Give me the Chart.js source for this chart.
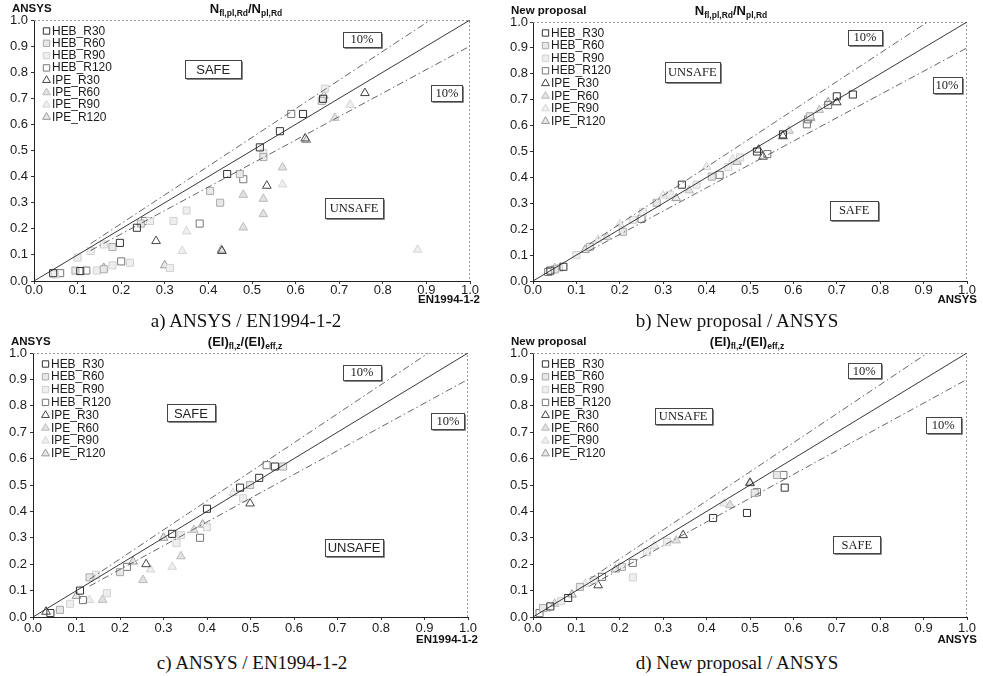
<!DOCTYPE html>
<html>
<head>
<meta charset="utf-8">
<script src="https://cdn.jsdelivr.net/npm/chart.js@4.4.1/dist/chart.umd.min.js"></script>
<style>
  body { margin: 0; background: #fff; width: 983px; height: 676px; position: relative; overflow: hidden; }
  .panel { position: absolute; }
  .cap { position: absolute; font-family: "Liberation Serif", "Times New Roman", serif; font-size: 19px; line-height: 20px; color: #111; transform: translateX(-50%); white-space: nowrap; }
</style>
</head>
<body>
<div class="panel" style="left:0;top:0;width:490px;height:305px"><canvas id="chartA"></canvas></div>
<div class="panel" style="left:490px;top:0;width:493px;height:305px"><canvas id="chartB"></canvas></div>
<div class="panel" style="left:0;top:320px;width:490px;height:330px"><canvas id="chartC"></canvas></div>
<div class="panel" style="left:490px;top:320px;width:493px;height:330px"><canvas id="chartD"></canvas></div>
<div class="cap" style="left:246px;top:311px">a) ANSYS / EN1994-1-2</div>
<div class="cap" style="left:737px;top:311px">b) New proposal / ANSYS</div>
<div class="cap" style="left:252px;top:653px">c) ANSYS / EN1994-1-2</div>
<div class="cap" style="left:737px;top:653px">d) New proposal / ANSYS</div>
<script>
// series names (legend)
const seriesNames = ['HEB_R30', 'HEB_R60', 'HEB_R90', 'HEB_R120', 'IPE_R30', 'IPE_R60', 'IPE_R90', 'IPE_R120'];
// reference lines y = f * x  (1:1 and +/-10%)
const refFactors = [1.1, 1.0, 0.9];
const bandStart = 0.13;

// a) N ratio : ANSYS (y) vs EN1994-1-2 (x)
const a_HEB_R30 = [[0.044,0.030],[0.106,0.038],[0.197,0.146],[0.236,0.204],[0.443,0.410],[0.518,0.512],[0.564,0.574],[0.617,0.640],[0.663,0.698]];
const a_HEB_R60 = [[0.095,0.040],[0.160,0.045],[0.180,0.130],[0.245,0.220],[0.404,0.345],[0.427,0.300],[0.472,0.410],[0.526,0.475],[0.660,0.690]];
const a_HEB_R90 = [[0.048,0.025],[0.100,0.090],[0.130,0.115],[0.144,0.040],[0.160,0.140],[0.180,0.060],[0.220,0.070],[0.266,0.230],[0.312,0.050],[0.320,0.230],[0.350,0.270],[0.526,0.490],[0.667,0.737]];
const a_HEB_R120 = [[0.060,0.030],[0.120,0.040],[0.200,0.075],[0.255,0.230],[0.380,0.220],[0.480,0.390],[0.590,0.640]];
const a_IPE_R30 = [[0.280,0.153],[0.431,0.115],[0.534,0.365],[0.622,0.546],[0.759,0.720]];
const a_IPE_R60 = [[0.480,0.205],[0.480,0.330],[0.526,0.256],[0.526,0.315],[0.570,0.435],[0.690,0.625]];
const a_IPE_R90 = [[0.340,0.115],[0.350,0.190],[0.570,0.370],[0.725,0.675],[0.880,0.120]];
const a_IPE_R120 = [[0.160,0.050],[0.300,0.060],[0.430,0.120],[0.625,0.540],[0.665,0.710]];

// b) N ratio : New proposal (y) vs ANSYS (x)
const b_HEB_R30 = [[0.040,0.040],[0.070,0.055],[0.343,0.372],[0.516,0.500],[0.576,0.566],[0.700,0.713],[0.737,0.720]];
const b_HEB_R60 = [[0.050,0.045],[0.131,0.132],[0.207,0.190],[0.285,0.302],[0.412,0.403],[0.638,0.636]];
const b_HEB_R90 = [[0.060,0.050],[0.100,0.100],[0.230,0.236],[0.253,0.267],[0.315,0.333],[0.377,0.372],[0.450,0.440],[0.477,0.477]];
const b_HEB_R120 = [[0.035,0.035],[0.250,0.240],[0.430,0.410],[0.540,0.490],[0.631,0.605],[0.634,0.624],[0.680,0.680]];
const b_IPE_R30 = [[0.520,0.507],[0.530,0.480],[0.576,0.559],[0.700,0.690]];
const b_IPE_R60 = [[0.050,0.050],[0.170,0.170],[0.360,0.350],[0.590,0.580],[0.660,0.660]];
const b_IPE_R90 = [[0.150,0.160],[0.200,0.220],[0.300,0.330],[0.400,0.440],[0.460,0.470]];
const b_IPE_R120 = [[0.120,0.120],[0.330,0.320],[0.470,0.460],[0.640,0.630],[0.680,0.690]];

// c) EI ratio : ANSYS (y) vs EN1994-1-2 (x)
const c_HEB_R30 = [[0.040,0.015],[0.108,0.100],[0.320,0.315],[0.400,0.410],[0.476,0.490],[0.520,0.527],[0.556,0.570]];
const c_HEB_R60 = [[0.062,0.027],[0.130,0.150],[0.200,0.170],[0.499,0.500],[0.575,0.570]];
const c_HEB_R90 = [[0.085,0.050],[0.145,0.160],[0.170,0.090],[0.330,0.280],[0.340,0.310],[0.400,0.340],[0.483,0.450]];
const c_HEB_R120 = [[0.115,0.064],[0.216,0.190],[0.384,0.300],[0.537,0.575]];
const c_IPE_R30 = [[0.030,0.020],[0.260,0.200],[0.499,0.430]];
const c_IPE_R60 = [[0.160,0.065],[0.253,0.140],[0.340,0.230],[0.370,0.330]];
const c_IPE_R90 = [[0.130,0.064],[0.270,0.180],[0.320,0.190],[0.460,0.470]];
const c_IPE_R120 = [[0.100,0.080],[0.230,0.210],[0.300,0.300],[0.390,0.350]];

// d) EI ratio : New proposal (y) vs ANSYS (x)
const d_HEB_R30 = [[0.040,0.040],[0.081,0.072],[0.415,0.375],[0.493,0.394],[0.580,0.490]];
const d_HEB_R60 = [[0.023,0.034],[0.108,0.114],[0.205,0.190],[0.511,0.470],[0.562,0.538]];
const d_HEB_R90 = [[0.065,0.060],[0.140,0.140],[0.230,0.150],[0.263,0.246],[0.309,0.284]];
const d_HEB_R120 = [[0.015,0.015],[0.159,0.152],[0.230,0.205],[0.516,0.473],[0.577,0.538]];
const d_IPE_R30 = [[0.150,0.120],[0.346,0.310],[0.500,0.507]];
const d_IPE_R60 = [[0.050,0.050],[0.330,0.290],[0.454,0.424]];
const d_IPE_R90 = [[0.030,0.030],[0.120,0.125],[0.280,0.270],[0.440,0.430]];
const d_IPE_R120 = [[0.090,0.085],[0.190,0.180],[0.500,0.510]];

// marker look for each series
const seriesStyle = [
  { shape: 'rect', stroke: '#333', fill: 'rgba(0,0,0,0)' },
  { shape: 'rect', stroke: '#aaa', fill: '#e8e8e8' },
  { shape: 'rect', stroke: '#d2d2d2', fill: '#eeeeee' },
  { shape: 'rect', stroke: '#777', fill: 'rgba(0,0,0,0)' },
  { shape: 'triangle', stroke: '#444', fill: 'rgba(0,0,0,0)' },
  { shape: 'triangle', stroke: '#bbb', fill: '#e2e2e2' },
  { shape: 'triangle', stroke: '#d6d6d6', fill: '#efefef' },
  { shape: 'triangle', stroke: '#999', fill: '#e9e9e9' }
];

function toPts(arr) { return arr.map(p => ({ x: p[0], y: p[1] })); }

function refLine(f) {
  const start = f === 1 ? 0 : bandStart;
  const xEnd = Math.min(1, 1 / f);
  return [{ x: start, y: start * f }, { x: xEnd, y: xEnd * f }];
}

function drawMarker(ctx, shape, x, y, r) {
  ctx.beginPath();
  if (shape === 'rect') {
    const s = Math.SQRT1_2 * r;
    ctx.rect(x - s, y - s, 2 * s, 2 * s);
  } else {
    ctx.moveTo(x, y - r);
    ctx.lineTo(x + 0.866 * r, y + 0.5 * r);
    ctx.lineTo(x - 0.866 * r, y + 0.5 * r);
    ctx.closePath();
  }
}

// axis titles, main title, frame, legend and text boxes
const deco = {
  id: 'deco',
  beforeDatasetsDraw(chart) {
    const ctx = chart.ctx, a = chart.chartArea;
    ctx.save();
    ctx.strokeStyle = '#999';
    ctx.lineWidth = 1;
    ctx.setLineDash([2, 2]);
    ctx.beginPath();
    ctx.moveTo(a.left, a.top + 0.5);
    ctx.lineTo(a.right - 0.5, a.top + 0.5);
    ctx.lineTo(a.right - 0.5, a.bottom);
    ctx.stroke();
    ctx.restore();
  },
  afterDatasetsDraw(chart, args, opts) {
    const ctx = chart.ctx, a = chart.chartArea;
    const xs = chart.scales.x, ys = chart.scales.y;
    ctx.save();
    ctx.fillStyle = '#111';
    ctx.textBaseline = 'middle';

    // y axis title top-left
    ctx.font = 'bold 11.5px Arial, "Liberation Sans", sans-serif';
    ctx.textAlign = 'left';
    ctx.fillText(opts.yTitle, a.left - 22, a.top - 11);
    // x axis title bottom-right, under the last tick labels
    ctx.textAlign = 'right';
    ctx.fillText(opts.xTitle, a.right + 10, a.bottom + opts.xTitleDrop);

    // main title with subscripts
    const big = 'bold 13px Arial, "Liberation Sans", sans-serif';
    const small = 'bold 8.5px Arial, "Liberation Sans", sans-serif';
    let total = 0;
    opts.titleParts.forEach(p => { ctx.font = p[1] ? small : big; total += ctx.measureText(p[0]).width; });
    let tx = opts.titleX - total / 2;
    ctx.textAlign = 'left';
    ctx.textBaseline = 'alphabetic';
    opts.titleParts.forEach(p => {
      ctx.font = p[1] ? small : big;
      ctx.fillText(p[0], tx, a.top - 7 + (p[1] ? 3 : 0));
      tx += ctx.measureText(p[0]).width;
    });

    // legend inside plot, top-left
    ctx.textBaseline = 'middle';
    let row = 0;
    chart.data.datasets.forEach(ds => {
      if (ds.seriesIndex === undefined) return;
      const st = seriesStyle[ds.seriesIndex];
      const y = a.top + 11 + row * opts.legendStep;
      ctx.fillStyle = st.fill;
      ctx.strokeStyle = st.stroke;
      ctx.lineWidth = 1;
      drawMarker(ctx, st.shape, a.left + 12.5, y, 4.5);
      ctx.fill();
      ctx.stroke();
      ctx.fillStyle = '#1a1a1a';
      ctx.font = '13px Arial, "Liberation Sans", sans-serif';
      ctx.save();
      ctx.translate(a.left + 18, y);
      ctx.scale(0.92, 1);
      ctx.textAlign = 'left';
      ctx.fillText(ds.label, 0, 0);
      ctx.restore();
      row++;
    });

    // boxed labels
    opts.boxes.forEach(b => {
      const cx = xs.getPixelForValue(b.x), cy = ys.getPixelForValue(b.y);
      const x0 = Math.round(cx - b.w / 2) + 0.5, y0 = Math.round(cy - b.h / 2) + 0.5;
      ctx.fillStyle = '#fff';
      ctx.fillRect(x0, y0, b.w, b.h);
      ctx.strokeStyle = '#444';
      ctx.lineWidth = 1;
      ctx.strokeRect(x0, y0, b.w, b.h);
      ctx.strokeStyle = '#888';
      ctx.beginPath();
      ctx.moveTo(x0 + b.w + 1, y0 + 1);
      ctx.lineTo(x0 + b.w + 1, y0 + b.h + 1);
      ctx.lineTo(x0 + 1, y0 + b.h + 1);
      ctx.stroke();
      ctx.fillStyle = '#222';
      ctx.font = b.serif ? '12.5px "Liberation Serif", "Times New Roman", serif' : '13px Arial, "Liberation Sans", sans-serif';
      ctx.textAlign = 'center';
      ctx.textBaseline = 'middle';
      ctx.fillText(b.text, cx, cy + 1);
    });
    ctx.restore();
  }
};

function makePanel(id, geo, seriesData, cfg) {
  const datasets = [];
  refFactors.forEach(f => {
    datasets.push({
      type: 'line',
      data: refLine(f),
      borderColor: f === 1 ? '#222' : '#555',
      borderWidth: 0.9,
      borderDash: f === 1 ? [] : [7, 3, 1.5, 3],
      pointRadius: 0,
      showLine: true,
      fill: false
    });
  });
  seriesData.forEach((arr, i) => {
    const st = seriesStyle[i];
    datasets.push({
      label: seriesNames[i],
      seriesIndex: i,
      data: toPts(arr),
      pointStyle: st.shape,
      pointRadius: 5,
      pointHoverRadius: 5,
      pointBorderWidth: 1,
      borderColor: st.stroke,
      backgroundColor: st.fill
    });
  });

  const axisCommon = {
    type: 'linear',
    min: 0,
    max: 1,
    grid: { drawOnChartArea: false, drawTicks: true, tickLength: 3, color: '#333' },
    border: { display: true, color: '#222', width: 1 },
    ticks: {
      stepSize: 0.1,
      autoSkip: false,
      maxRotation: 0,
      color: '#1a1a1a',
      font: { family: 'Arial, "Liberation Sans", sans-serif', size: 13 },
      callback: v => Number(v).toFixed(1)
    }
  };

  new Chart(document.getElementById(id), {
    type: 'scatter',
    data: { datasets },
    options: {
      responsive: true,
      maintainAspectRatio: false,
      animation: false,
      events: [],
      layout: { padding: { top: geo.top, right: geo.right, left: 0, bottom: 0 } },
      plugins: {
        legend: { display: false },
        tooltip: { enabled: false },
        deco: cfg
      },
      scales: {
        x: Object.assign({}, axisCommon, {
          ticks: Object.assign({}, axisCommon.ticks, { padding: geo.xPad }),
          afterFit: s => { s.height = geo.height - geo.bottom; }
        }),
        y: Object.assign({}, axisCommon, {
          ticks: Object.assign({}, axisCommon.ticks, { padding: geo.yPad }),
          afterFit: s => { s.width = geo.left; }
        })
      }
    },
    plugins: [deco]
  });
}

const nTitle = [['N', 0], ['fl,pl,Rd', 1], ['/N', 0], ['pl,Rd', 1]];
const eiTitle = [['(EI)', 0], ['fl,z', 1], ['/(EI)', 0], ['eff,z', 1]];

makePanel('chartA', { left: 34, right: 20, top: 20, bottom: 281, height: 305, yPad: 3, xPad: -1 },
  [a_HEB_R30, a_HEB_R60, a_HEB_R90, a_HEB_R120, a_IPE_R30, a_IPE_R60, a_IPE_R90, a_IPE_R120],
  {
    yTitle: 'ANSYS', xTitle: 'EN1994-1-2', titleParts: nTitle, titleX: 246, legendStep: 12.3, xTitleDrop: 19,
    boxes: [
      { text: 'SAFE', x: 0.411, y: 0.812, w: 56, h: 18, serif: false },
      { text: '10%', x: 0.752, y: 0.927, w: 38, h: 15, serif: true },
      { text: '10%', x: 0.947, y: 0.720, w: 31, h: 16, serif: true },
      { text: 'UNSAFE', x: 0.734, y: 0.280, w: 58, h: 20, serif: true }
    ]
  });

makePanel('chartB', { left: 43, right: 16, top: 22, bottom: 281, height: 305, yPad: 2, xPad: -1 },
  [b_HEB_R30, b_HEB_R60, b_HEB_R90, b_HEB_R120, b_IPE_R30, b_IPE_R60, b_IPE_R90, b_IPE_R120],
  {
    yTitle: 'New proposal', xTitle: 'ANSYS', titleParts: nTitle, titleX: 241, legendStep: 12.6, xTitleDrop: 19,
    boxes: [
      { text: 'UNSAFE', x: 0.367, y: 0.807, w: 55, h: 20, serif: true },
      { text: '10%', x: 0.765, y: 0.942, w: 34, h: 15, serif: true },
      { text: '10%', x: 0.954, y: 0.757, w: 29, h: 16, serif: true },
      { text: 'SAFE', x: 0.740, y: 0.274, w: 48, h: 19, serif: true }
    ]
  });

makePanel('chartC', { left: 33, right: 22, top: 33, bottom: 297, height: 330, yPad: 3, xPad: 1 },
  [c_HEB_R30, c_HEB_R60, c_HEB_R90, c_HEB_R120, c_IPE_R30, c_IPE_R60, c_IPE_R90, c_IPE_R120],
  {
    yTitle: 'ANSYS', xTitle: 'EN1994-1-2', titleParts: eiTitle, titleX: 245, legendStep: 12.8, xTitleDrop: 23,
    boxes: [
      { text: 'SAFE', x: 0.363, y: 0.773, w: 48, h: 17, serif: false },
      { text: '10%', x: 0.756, y: 0.928, w: 38, h: 15, serif: true },
      { text: '10%', x: 0.954, y: 0.742, w: 33, h: 16, serif: true },
      { text: 'UNSAFE', x: 0.738, y: 0.265, w: 58, h: 17, serif: false }
    ]
  });

makePanel('chartD', { left: 43, right: 16, top: 33, bottom: 297, height: 330, yPad: 2, xPad: 1 },
  [d_HEB_R30, d_HEB_R60, d_HEB_R90, d_HEB_R120, d_IPE_R30, d_IPE_R60, d_IPE_R90, d_IPE_R120],
  {
    yTitle: 'New proposal', xTitle: 'ANSYS', titleParts: eiTitle, titleX: 257, legendStep: 12.8, xTitleDrop: 23,
    boxes: [
      { text: 'UNSAFE', x: 0.346, y: 0.761, w: 57, h: 16, serif: true },
      { text: '10%', x: 0.763, y: 0.932, w: 33, h: 15, serif: true },
      { text: '10%', x: 0.945, y: 0.727, w: 35, h: 16, serif: true },
      { text: 'SAFE', x: 0.746, y: 0.273, w: 47, h: 17, serif: true }
    ]
  });
</script>
</body>
</html>
